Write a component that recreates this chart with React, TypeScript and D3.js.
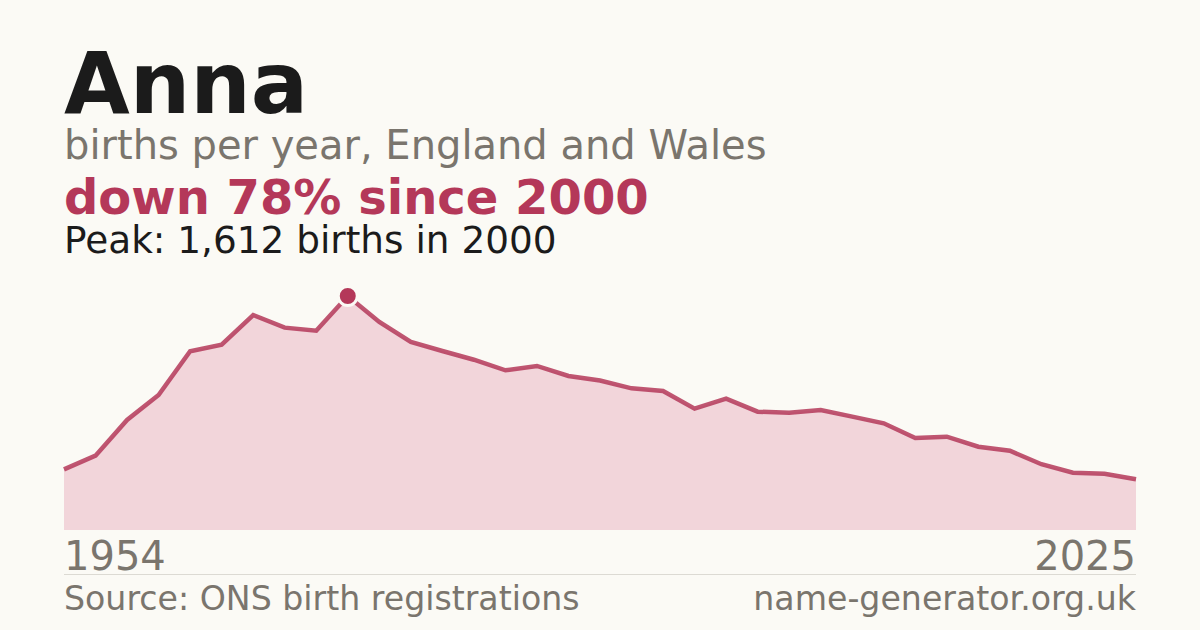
import React, { useRef, useEffect } from 'react';
import * as d3 from 'd3';

// ONS decade tables up to 1994, then annual from 1996
const years: number[] = [
  1954, 1964, 1974, 1984, 1994,
  1996, 1997, 1998, 1999, 2000, 2001, 2002, 2003, 2004, 2005, 2006, 2007, 2008, 2009, 2010,
  2011, 2012, 2013, 2014, 2015, 2016, 2017, 2018, 2019, 2020, 2021, 2022, 2023, 2024, 2025
];

const births: number[] = [
  418, 512, 758, 930, 1231,
  1277, 1481, 1394, 1373, 1612, 1433, 1295, 1233, 1173, 1100, 1130, 1061, 1030, 976, 958,
  836, 905, 815, 808, 827, 781, 735, 634, 643, 574, 546, 453, 395, 388, 349
];

const nameTitle = 'Anna';
const subtitle = 'births per year, England and Wales';
const headline = 'down 78% since 2000';
const peakLine = 'Peak: 1,612 births in 2000';
const sourceText = 'Source: ONS birth registrations';
const siteText = 'name-generator.org.uk';

const W = 1200;
const H = 630;
const FONT = '"DejaVu Sans", Verdana, sans-serif';

const colors = {
  background: '#fbfaf5',
  ink: '#1b1b1b',
  grey: '#7a756d',
  accent: '#b43859',
  fill: '#f2d5da',
  rule: '#dcdad3'
};

const App: React.FC = () => {
  const svgRef = useRef<SVGSVGElement>(null);

  useEffect(() => {
    document.body.style.margin = '0';
    if (!svgRef.current) return;

    const svg = d3.select(svgRef.current);
    svg.selectAll('*').remove();

    svg.append('rect')
      .attr('width', W)
      .attr('height', H)
      .attr('fill', colors.background);

    const left = 64;
    const right = 1136;
    const bottom = 530;
    const top = 296;

    // Header text
    const addText = (txt: string, y: number, size: number, weight: string, fill: string, x = left, anchor = 'start') => {
      svg.append('text')
        .attr('x', x)
        .attr('y', y)
        .attr('font-family', FONT)
        .attr('font-size', size)
        .attr('font-weight', weight)
        .attr('fill', fill)
        .attr('text-anchor', anchor)
        .text(txt);
    };

    addText(nameTitle, 113, 85, 'bold', colors.ink);
    addText(subtitle, 159, 40, 'normal', colors.grey);
    addText(headline, 214, 48, 'bold', colors.accent);
    addText(peakLine, 253, 37.4, 'normal', colors.ink);

    // Scales
    const x = d3.scalePoint<number>()
      .domain(years)
      .range([left, right]);

    const y = d3.scaleLinear()
      .domain([0, d3.max(births) || 0])
      .range([bottom, top]);

    const pts = years.map((yr, i) => ({ year: yr, value: births[i] }));

    const area = d3.area<{ year: number; value: number }>()
      .x(d => x(d.year) || 0)
      .y0(bottom)
      .y1(d => y(d.value));

    const line = d3.line<{ year: number; value: number }>()
      .x(d => x(d.year) || 0)
      .y(d => y(d.value));

    svg.append('path')
      .datum(pts)
      .attr('d', area)
      .attr('fill', colors.fill);

    svg.append('path')
      .datum(pts)
      .attr('d', line)
      .attr('fill', 'none')
      .attr('stroke', colors.accent)
      .attr('stroke-width', 4.5)
      .attr('stroke-linejoin', 'miter')
      .attr('opacity', 0.85);

    // Peak marker
    const peak = pts.reduce((a, b) => (b.value > a.value ? b : a));
    svg.append('circle')
      .attr('cx', x(peak.year) || 0)
      .attr('cy', y(peak.value))
      .attr('r', 9.5)
      .attr('fill', colors.accent)
      .attr('stroke', colors.background)
      .attr('stroke-width', 3);

    // Year labels
    addText(String(years[0]), 570, 40, 'normal', colors.grey);
    addText(String(years[years.length - 1]), 570, 40, 'normal', colors.grey, right, 'end');

    svg.append('line')
      .attr('x1', left)
      .attr('x2', right)
      .attr('y1', 574.5)
      .attr('y2', 574.5)
      .attr('stroke', colors.rule)
      .attr('stroke-width', 1);

    addText(sourceText, 610, 33.2, 'normal', colors.grey);
    addText(siteText, 610, 33.2, 'normal', colors.grey, right, 'end');
  }, []);

  return <svg ref={svgRef} width={W} height={H} style={{ display: 'block' }} />;
};

export default App;
